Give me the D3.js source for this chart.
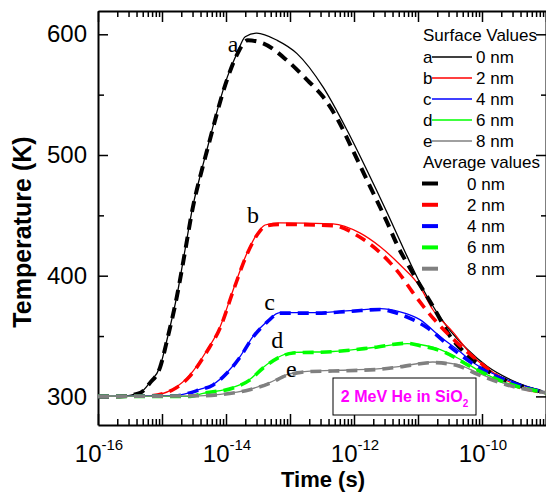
<!DOCTYPE html>
<html><head><meta charset="utf-8">
<script src="https://cdn.jsdelivr.net/npm/d3@7"></script>
<style>body{margin:0;background:#fff} svg{display:block}</style>
</head><body>
<svg id="c" width="546" height="492"></svg>
<script>
// ---- data ----
const seriesNames = ["0 nm","2 nm","4 nm","6 nm","8 nm"];
const seriesLetters = ["a","b","c","d","e"];
const seriesColors = ["#000000","#ff0000","#0000ff","#00ff00","#808080"];
const xTickExponents = [-16,-14,-12,-10];
const yTickValues = [300,400,500,600];

const surfA_logt = [-16,-15.66,-15.34,-15.19,-15.03,-14.91,-14.77,-14.64,-14.52,-14.38,-14.30,-13.98,-13.83,-13.70,-13.52,-13.20,-12.89,-12.48,-12.11,-11.80,-11.48,-11.17,-10.86,-10.55,-10.23,-9.92,-9.56,-9.00];
const surfA_T    = [300,300,303.3,311.6,324.8,349.6,382.6,421.5,457,487.6,504,564.5,584,598,601,595,584,556,520.7,487.6,452,416,383,358,339,325,314,303.3];
const avgA_logt  = [-16,-15.66,-15.34,-15.19,-15.03,-14.91,-14.77,-14.64,-14.52,-14.38,-14.30,-13.98,-13.83,-13.66,-13.42,-13.05,-12.73,-12.48,-12.25,-12.02,-11.75,-11.48,-11.33,-11.09,-10.77,-10.50,-10.20,-9.88,-9.41,-9.00];
const avgA_T     = [300,300,303,311,324,349,382,420,456,487,503,563,583,595,592.5,578.5,562,548,529,504,474,444,426,403,375,350,333,320,309,303];

const surfB_logt = [-16,-15.19,-14.83,-14.56,-14.30,-14.09,-13.89,-13.67,-13.47,-13.39,-13.16,-12.33,-11.91,-11.59,-11.28,-10.97,-10.77,-10.45,-10.19,-9.61,-9];
const surfB_T    = [300,300.5,306,318,338,358,388,419,438,442,443.8,443,435.5,424,409,391,372,353,336,313,303.3];
const avgB_logt  = [-16,-15.19,-14.83,-14.56,-14.30,-14.09,-13.89,-13.67,-13.47,-13.39,-13.16,-12.33,-11.91,-11.59,-11.28,-11.08,-10.70,-10.40,-10.10,-9.61,-9];
const avgB_T     = [300,300.5,305.5,317,337,357,387,418,437,441,442.5,441.5,432,419,401,386,361,345,331,312,303];

const surfC_logt = [-16,-14.80,-14.41,-14.20,-13.98,-13.78,-13.58,-13.36,-13.16,-12.58,-12.06,-11.59,-11.28,-10.97,-10.66,-10.39,-10.08,-9.61,-9];
const surfC_T    = [300,300.8,305.8,310,320,333,349.6,362,369.4,369.4,371,372.7,370,363.6,349.8,339,326,314,303.3];
const avgC_logt  = [-16,-14.80,-14.41,-14.20,-13.98,-13.78,-13.58,-13.36,-13.16,-12.58,-12.06,-11.59,-11.28,-10.86,-10.45,-10.08,-9.61,-9];
const avgC_T     = [300,300.5,305.5,309.5,319.5,332.5,349,361.5,369,369,370.5,372,368,357,339,325,313,303];

const surfD_logt = [-16,-14.56,-14.36,-13.89,-13.63,-13.42,-13.20,-12.95,-12.33,-11.70,-11.17,-10.97,-10.66,-10.34,-10.03,-9.61,-9];
const surfD_T    = [300,300,302.5,307.4,314,324,332,336.4,337.2,340.5,343.8,343,339,330.6,320.7,311,303.3];
const avgD_logt  = [-16,-14.56,-14.36,-13.89,-13.63,-13.42,-13.20,-12.95,-12.33,-11.70,-11.17,-10.97,-10.60,-10.19,-9.61,-9];
const avgD_T     = [300,300,302.5,307,313.5,323.5,331.5,336,337,340.5,344,342,337,325,311,303];

const surfE_logt = [-16,-14.41,-14.09,-13.63,-13.31,-13.05,-12.89,-12.73,-12.33,-11.59,-11.28,-10.77,-10.39,-10.08,-9.61,-9];
const surfE_T    = [300,300.5,301.7,305.8,311.6,318,319.8,320.7,321.5,323,324.8,328.5,326.5,319.8,310,303.3];
const avgE_logt  = surfE_logt;
const avgE_T     = [300,300.5,301.5,305.5,311,317.5,319.5,320.5,321,322.5,324.5,328,325.5,318.5,309.5,303];

const letterPos = [[-13.89,585],[-13.58,444],[-13.32,371.5],[-13.2,340],[-12.98,316]];

// ---- chart ----
const svg = d3.select("#c");
const L = 98, R = 546, T = 11, B = 425;
const x = d3.scaleLog().domain([1e-16, 1e-9]).range([L, R]);
const y = d3.scaleLinear().domain([276.3, 619.3]).range([B, T]);
const sans = "'Liberation Sans', Arial, sans-serif";
const serif = "'Liberation Serif', 'Times New Roman', serif";

const surf = [[surfA_logt,surfA_T],[surfB_logt,surfB_T],[surfC_logt,surfC_T],[surfD_logt,surfD_T],[surfE_logt,surfE_T]];
const avg  = [[avgA_logt,avgA_T],[avgB_logt,avgB_T],[avgC_logt,avgC_T],[avgD_logt,avgD_T],[avgE_logt,avgE_T]];

const line = d3.line().x(d => x(Math.pow(10, d[0]))).y(d => y(d[1])).curve(d3.curveMonotoneX);
const pts = s => s[0].map((t, i) => [t, s[1][i]]);

const majors = d3.range(-16, -8).map(e => Math.pow(10, e));
const minors = [];
d3.range(-16, -9).forEach(e => { for (let k = 2; k <= 9; k++) minors.push(k * Math.pow(10, e)); });
const yMinor = [350, 450, 550];

function styleAxis(g) {
  g.selectAll("path.domain").attr("stroke", "#000").attr("stroke-width", 2);
  g.selectAll(".tick line").attr("stroke", "#000").attr("stroke-width", 1.5);
}
// bottom
svg.append("g").attr("transform", `translate(0,${B})`)
  .call(d3.axisBottom(x).tickValues(majors).tickSize(-11).tickSizeOuter(0).tickFormat(""))
  .call(styleAxis);
svg.append("g").attr("transform", `translate(0,${B})`)
  .call(d3.axisBottom(x).tickValues(minors).tickSize(-6).tickSizeOuter(0).tickFormat(""))
  .call(g => g.select(".domain").remove()).call(styleAxis);
// top
svg.append("g").attr("transform", `translate(0,${T})`)
  .call(d3.axisTop(x).tickValues(majors).tickSize(-11).tickSizeOuter(0).tickFormat(""))
  .call(styleAxis);
svg.append("g").attr("transform", `translate(0,${T})`)
  .call(d3.axisTop(x).tickValues(minors).tickSize(-6).tickSizeOuter(0).tickFormat(""))
  .call(g => g.select(".domain").remove()).call(styleAxis);
// left
svg.append("g").attr("transform", `translate(${L},0)`)
  .call(d3.axisLeft(y).tickValues(yTickValues).tickSize(-10).tickSizeOuter(0).tickPadding(11))
  .call(styleAxis)
  .call(g => g.selectAll("text").style("font", `24px ${sans}`).attr("fill", "#000"));
svg.append("g").attr("transform", `translate(${L},0)`)
  .call(d3.axisLeft(y).tickValues(yMinor).tickSize(-6).tickSizeOuter(0).tickFormat(""))
  .call(g => g.select(".domain").remove()).call(styleAxis);
// right
svg.append("g").attr("transform", `translate(${R},0)`)
  .call(d3.axisRight(y).tickValues(yTickValues).tickSize(-10).tickSizeOuter(0).tickFormat(""))
  .call(styleAxis);
svg.append("g").attr("transform", `translate(${R},0)`)
  .call(d3.axisRight(y).tickValues(yMinor).tickSize(-5).tickSizeOuter(0).tickFormat(""))
  .call(g => g.select(".domain").remove()).call(styleAxis);

// x tick labels with superscripts
xTickExponents.forEach(e => {
  const t = svg.append("text").attr("x", x(Math.pow(10, e)) + 1).attr("y", 461.5)
    .attr("text-anchor", "middle").style("font", `24px ${sans}`).attr("fill", "#000");
  t.append("tspan").text("10");
  t.append("tspan").attr("dy", -12).style("font-size", "15px").text("-" + Math.abs(e));
});

// axis titles
svg.append("text").attr("x", 323).attr("y", 487).attr("text-anchor", "middle")
  .style("font", `bold 22px ${sans}`).text("Time (s)");
svg.append("text").attr("transform", "translate(31,232) rotate(-90)").attr("text-anchor", "middle")
  .style("font", `bold 25px ${sans}`).text("Temperature (K)");

// curves
const plot = svg.append("g");
surf.forEach((s, i) => {
  plot.append("path").attr("d", line(pts(s))).attr("fill", "none")
    .attr("stroke", seriesColors[i]).attr("stroke-width", 1.3);
});
avg.forEach((s, i) => {
  plot.append("path").attr("d", line(pts(s))).attr("fill", "none")
    .attr("stroke", seriesColors[i]).attr("stroke-width", i === 0 ? 4 : 3.6)
    .attr("stroke-dasharray", "11,7");
});

// curve letters
letterPos.forEach((p, i) => {
  svg.append("text").attr("x", x(Math.pow(10, p[0]))).attr("y", y(p[1]))
    .attr("text-anchor", "middle").style("font", `24px ${serif}`).text(seriesLetters[i]);
});

// legend
const lg = svg.append("g").style("font", `17px ${sans}`);
lg.append("text").attr("x", 423).attr("y", 41).text("Surface Values");
seriesNames.forEach((n, i) => {
  const yy = 57 + i * 21;
  lg.append("text").attr("x", 423).attr("y", yy + 6).text(seriesLetters[i]);
  lg.append("line").attr("x1", 432).attr("x2", 472).attr("y1", yy).attr("y2", yy)
    .attr("stroke", seriesColors[i]).attr("stroke-width", 1.3);
  lg.append("text").attr("x", 476).attr("y", yy + 6).text(n);
});
lg.append("text").attr("x", 423).attr("y", 168).text("Average values");
seriesNames.forEach((n, i) => {
  const yy = 183.5 + i * 21.3;
  lg.append("line").attr("x1", 422).attr("x2", 438).attr("y1", yy).attr("y2", yy)
    .attr("stroke", seriesColors[i]).attr("stroke-width", 4);
  lg.append("text").attr("x", 467).attr("y", yy + 6).text(n);
});

// annotation box
svg.append("rect").attr("x", 333).attr("y", 378).attr("width", 143).attr("height", 37)
  .attr("fill", "#fff").attr("stroke", "#000").attr("stroke-width", 1);
const ann = svg.append("text").attr("x", 404.5).attr("y", 402).attr("text-anchor", "middle")
  .style("font", `bold 16px ${sans}`).attr("fill", "#ff00ff");
ann.append("tspan").text("2 MeV He in SiO");
ann.append("tspan").attr("dy", 5).style("font-size", "10px").text("2");
</script>
</body></html>
